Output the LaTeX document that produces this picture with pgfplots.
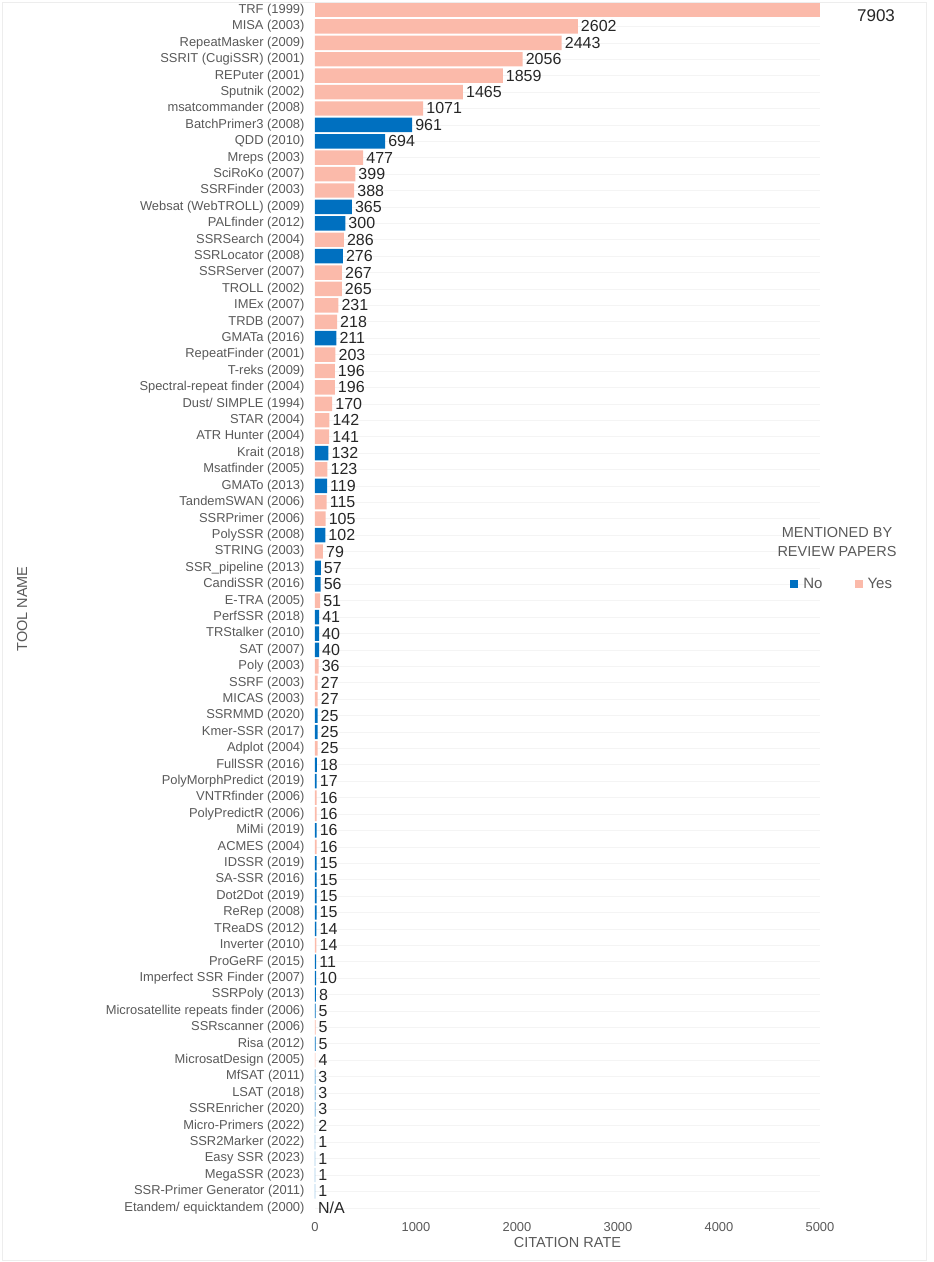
\documentclass[border=0pt]{standalone}
\usepackage{pgfplots}
\pgfplotsset{compat=1.18}
\usepackage{fontspec}
\setmainfont{Liberation Sans}
\definecolor{cyes}{RGB}{251,186,170}
\definecolor{cno}{RGB}{0,112,192}
\definecolor{tgray}{RGB}{89,89,89}
\definecolor{tdark}{RGB}{38,38,38}
\definecolor{gridc}{RGB}{244,244,244}
\begin{document}
\begin{tikzpicture}
\useasboundingbox (-315pt,-46pt) rectangle (619pt,1216pt);
\draw[black!7] (-313pt,-44pt) rectangle (611pt,1214pt);
\begin{axis}[
  at={(0,0)}, anchor=south west,
  scale only axis, width=505pt, height=1214.2pt,
  y dir=reverse,
  xmin=0, xmax=5000, ymin=-0.5, ymax=73.5,
  clip mode=individual,
  point meta=x,
  xtick={0,1000,...,5000},
  ytick={0,...,73},
  yticklabels={{TRF (1999)},{MISA (2003)},{RepeatMasker (2009)},{SSRIT (CugiSSR) (2001)},{REPuter (2001)},{Sputnik (2002)},{msatcommander (2008)},{BatchPrimer3 (2008)},{QDD (2010)},{Mreps (2003)},{SciRoKo (2007)},{SSRFinder (2003)},{Websat (WebTROLL) (2009)},{PALfinder (2012)},{SSRSearch (2004)},{SSRLocator (2008)},{SSRServer (2007)},{TROLL (2002)},{IMEx (2007)},{TRDB (2007)},{GMATa (2016)},{RepeatFinder (2001)},{T-reks (2009)},{Spectral-repeat finder (2004)},{Dust/ SIMPLE (1994)},{STAR (2004)},{ATR Hunter (2004)},{Krait (2018)},{Msatfinder (2005)},{GMATo (2013)},{TandemSWAN (2006)},{SSRPrimer (2006)},{PolySSR (2008)},{STRING (2003)},{SSR\_pipeline (2013)},{CandiSSR (2016)},{E-TRA (2005)},{PerfSSR (2018)},{TRStalker (2010)},{SAT (2007)},{Poly (2003)},{SSRF (2003)},{MICAS (2003)},{SSRMMD (2020)},{Kmer-SSR (2017)},{Adplot (2004)},{FullSSR (2016)},{PolyMorphPredict (2019)},{VNTRfinder (2006)},{PolyPredictR (2006)},{MiMi (2019)},{ACMES (2004)},{IDSSR (2019)},{SA-SSR (2016)},{Dot2Dot (2019)},{ReRep (2008)},{TReaDS (2012)},{Inverter (2010)},{ProGeRF (2015)},{Imperfect SSR Finder (2007)},{SSRPoly (2013)},{Microsatellite repeats finder (2006)},{SSRscanner (2006)},{Risa (2012)},{MicrosatDesign (2005)},{MfSAT (2011)},{LSAT (2018)},{SSREnricher (2020)},{Micro-Primers (2022)},{SSR2Marker (2022)},{Easy SSR (2023)},{MegaSSR (2023)},{SSR-Primer Generator (2011)},{Etandem/ equicktandem (2000)}},
  axis line style={draw=none},
  major tick length=0pt,
  ymajorgrids, grid style={gridc, line width=0.6pt},
  yticklabel style={font=\fontsize{12.9}{14}\selectfont, text=tgray, xshift=-7pt},
  xticklabel style={font=\fontsize{12.9}{14}\selectfont, text=tgray, yshift=-3pt},
  /pgf/number format/assume math mode=true,
  /pgf/number format/1000 sep={},
  xlabel={CITATION RATE},
  xlabel style={font=\fontsize{14.5}{16}\selectfont, text=tgray, yshift=1pt},
  ylabel={TOOL NAME},
  every axis y label/.style={at={(axis description cs:-0.580,0.5)}, rotate=90, anchor=center, font=\fontsize{14.5}{16}\selectfont, text=tgray},
  legend columns=2,
  legend style={at={(axis description cs:1.044,0.5205)}, anchor=center, draw=none, fill=none, font=\fontsize{15}{17}\selectfont, text=tgray, /tikz/every even column/.append style={column sep=30pt}, /tikz/every odd column/.append style={column sep=3pt}},
  legend image code/.code={\fill[#1] (0pt,-4pt) rectangle (8pt,4pt);},
  nodes near coords,
  nodes near coords align={horizontal},
  every node near coord/.append style={font=\fontsize{16}{18}\selectfont, text=tdark, inner sep=3pt},
]
\addplot[xbar, bar shift=0pt, bar width=0.88, fill=cno, draw=none] coordinates {
(961,7) (694,8) (365,12) (300,13) (276,15) (211,20) (132,27) (119,29) (102,32)
(57,34) (56,35) (41,37) (40,38) (40,39) (25,43) (25,44) (18,46) (17,47) (16,50)
(15,52) (15,53) (15,54) (15,55) (14,56) (11,58) (10,59) (8,60) (5,61) (5,63)
(3,65) (3,66) (3,67) (2,68) (1,69) (1,70) (1,71) (1,72)};
\addlegendentry{No}
\addplot[xbar, bar shift=0pt, bar width=0.88, fill=cyes, draw=none] coordinates {
(2602,1) (2443,2) (2056,3) (1859,4) (1465,5) (1071,6) (477,9) (399,10) (388,11)
(286,14) (267,16) (265,17) (231,18) (218,19) (203,21) (196,22) (196,23) (170,24)
(142,25) (141,26) (123,28) (115,30) (105,31) (79,33) (51,36) (36,40) (27,41) (27,42)
(25,45) (16,48) (16,49) (16,51) (14,57) (5,62) (4,64)};
\addlegendentry{Yes}
\addplot[xbar, bar shift=0pt, bar width=0.88, fill=cyes, draw=none, nodes near coords=\empty, forget plot] coordinates {(7903,0)};
\node[anchor=west, font=\fontsize{16}{18}\selectfont, text=tdark, inner sep=3pt] at (axis cs:0,73) {N/A};
\node[font=\fontsize{17}{19}\selectfont, text=tdark] at (axis description cs:1.111,0.989) {7903};
\node[align=center, font=\fontsize{14.5}{19}\selectfont, text=tgray] at (axis description cs:1.0337,0.5547) {MENTIONED BY\\REVIEW PAPERS};
\end{axis}
\end{tikzpicture}
\end{document}
